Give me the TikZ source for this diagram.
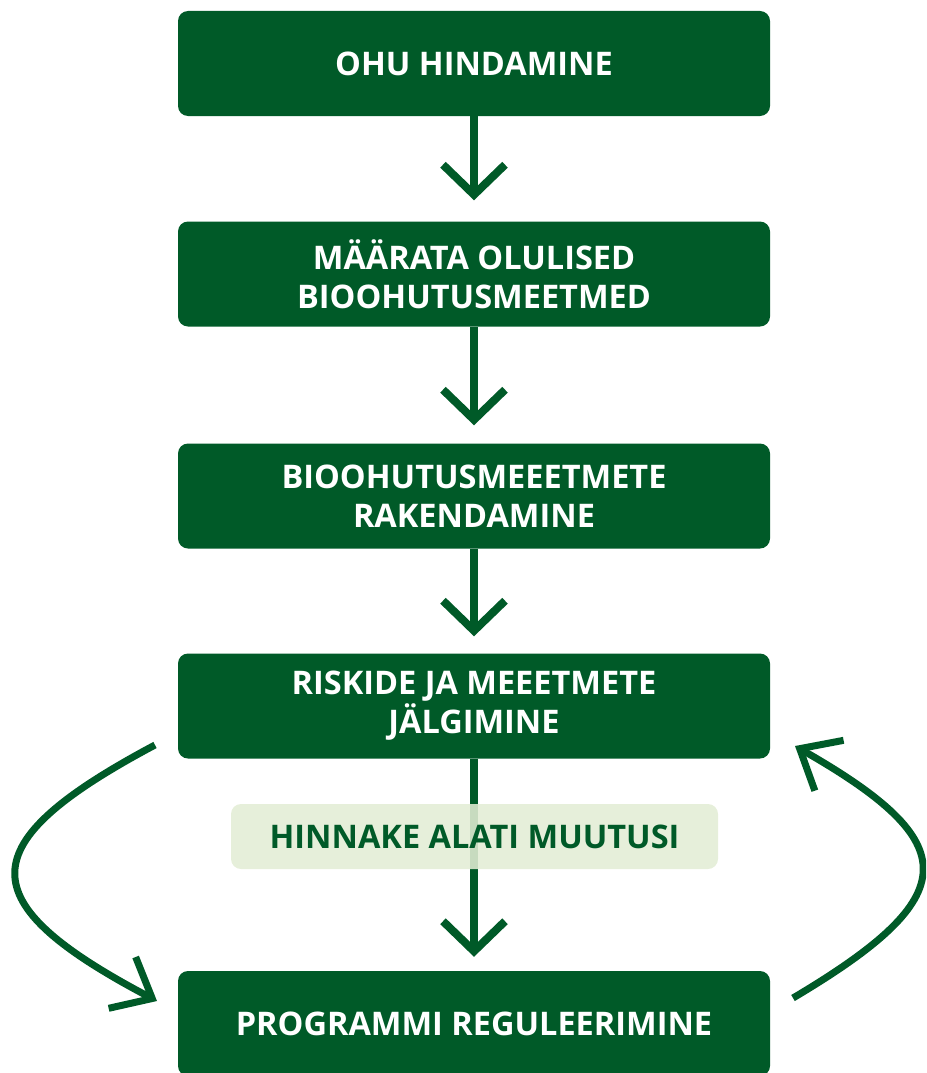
\documentclass[tikz,border=0pt]{standalone}
\usepackage{fontspec}
\setmainfont{Open Sans}
\usetikzlibrary{arrows.meta}
\definecolor{dgreen}{RGB}{0,90,40}
\definecolor{lgreen}{RGB}{227,237,213}
\tikzset{
  stepbox/.style={fill=dgreen, rounded corners=10pt, minimum width=592pt, minimum height=105pt,
    text=white, font=\fontsize{32.5}{39}\selectfont\bfseries, align=center, inner sep=0pt},
  notebox/.style={fill=lgreen, fill opacity=0.88, text opacity=1, rounded corners=10pt,
    minimum width=487pt, minimum height=65pt, text=dgreen, font=\fontsize{32.5}{39}\selectfont\bfseries, inner sep=0pt},
  conn/.style={draw=dgreen, line width=8pt, -{Straight Barb[length=30pt,width=62pt,line width=8pt]}},
  loop/.style={draw=dgreen, line width=7pt, -{Straight Barb[length=34pt,width=58pt,line width=7pt]}}
}
\begin{document}
\begin{tikzpicture}[x=1pt,y=-1pt]
\useasboundingbox (0,0) rectangle (926,1073);
\clip (0,0) rectangle (926,1073);
\node[stepbox] (b1) at (474,63.5) {OHU HINDAMINE};
\node[stepbox] (b2) at (474,274) {MÄÄRATA OLULISED\\BIOOHUTUSMEETMED};
\node[stepbox] (b3) at (474,496) {BIOOHUTUSMEEETMETE\\RAKENDAMINE};
\node[stepbox] (b4) at (474,706) {RISKIDE JA MEEETMETE\\JÄLGIMINE};
\node[stepbox] (b5) at (474,1023.5) {PROGRAMMI REGULEERIMINE};
\draw[conn, shorten >=21pt] (b1.south) -- (b2.north);
\draw[conn, shorten >=18pt] (b2.south) -- (b3.north);
\draw[conn, shorten >=17pt] (b3.south) -- (b4.north);
\draw[conn, shorten >=14pt] (b4.south) -- (b5.north);
\node[notebox] (n) at (474.5,836.5) {HINNAKE ALATI MUUTUSI};
\coordinate (ls) at (155,745);
\coordinate (le) at (157,1001);
\coordinate (rs) at (793,998);
\coordinate (re) at (795,746);
\draw[loop] (ls) .. controls (-31,844) and (-31,902) .. (le);
\draw[loop] (rs) .. controls (965,896) and (965,843) .. (re);
\end{tikzpicture}
\end{document}
